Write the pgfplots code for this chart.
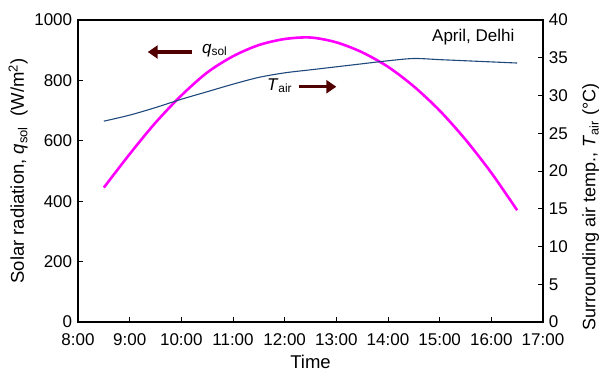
\documentclass[border=0pt]{standalone}
\usepackage{pgfplots}
\pgfplotsset{compat=1.18}
\usepackage{fontspec}
\setmainfont{Liberation Sans}
\usetikzlibrary{arrows.meta}
\definecolor{qcol}{RGB}{255,0,255}
\definecolor{tcol}{RGB}{31,73,125}
\definecolor{arr}{RGB}{80,0,0}
\begin{document}
\fontsize{17}{20}\selectfont
\begin{tikzpicture}
\pgfplotsset{common/.style={
  scale only axis, width=465pt, height=302pt, xmin=8, xmax=17,
  font=\fontsize{17}{20}\selectfont,
  label style={font=\fontsize{18.5}{22}\selectfont},
  /pgf/number format/assume math mode=true,
  /pgf/number format/1000 sep={},
  tick align=inside, major tick length=5pt,
  tick style={black, line width=0.6pt},
  axis line style={line width=1.5pt},
}}
\begin{axis}[common,
  ymin=0, ymax=1000, ytick={0,200,...,1000},
  xtick={8,...,17},
  xticklabels={8:00,9:00,10:00,11:00,12:00,13:00,14:00,15:00,16:00,17:00},
  xticklabel style={yshift=-6pt},
  xtick pos=bottom, ytick pos=left,
  xlabel={Time}, ylabel={Solar radiation, \textit{q}\textsubscript{sol}\ \ (W/m\textsuperscript{2})},
  xlabel style={yshift=2pt}, ylabel style={yshift=-5pt},
]
\addplot[qcol, line width=2.6pt, smooth] coordinates {
(8.5,445) (9.0,556) (9.5,660) (10.0,750) (10.5,826) (11.0,880) (11.5,917)
(12.0,937) (12.5,942) (13.0,926) (13.5,893) (14.0,845) (14.5,780)
(15.0,700) (15.5,604) (16.0,494) (16.5,370)
};
\draw[arr, line width=3.5pt, -{Triangle[width=13pt,length=10pt]}] (axis cs:10.2,894) -- (axis cs:9.35,894);
\node[anchor=west, inner sep=0pt] at (axis cs:10.4,900) {\textit{q}\textsubscript{sol}};
\node[anchor=east, inner sep=0pt] at (axis cs:12.15,782) {\textit{T}\textsubscript{air}};
\draw[arr, line width=3.5pt, -{Triangle[width=13pt,length=10pt]}] (axis cs:12.27,779) -- (axis cs:13.0,779);
\node[anchor=east, inner sep=0pt] at (axis cs:16.45,945) {April, Delhi};
\end{axis}
\begin{axis}[common,
  ymin=0, ymax=40, ytick={0,5,...,40},
  axis y line*=right, axis x line=none,
  ylabel={Surrounding air temp., \textit{T}\textsubscript{air} (°C)},
  ylabel style={at={(ticklabel cs:-0.03)}, anchor=north west, xshift=-5pt, yshift=-3pt,
    font=\fontsize{18}{21}\selectfont},
]
\addplot[tcol, line width=1.1pt, smooth] coordinates {
(8.5,26.6) (9.0,27.4) (9.5,28.4) (10.0,29.5) (10.5,30.5) (11.0,31.5) (11.5,32.4)
(12.0,33.0) (12.5,33.4) (13.0,33.8) (13.5,34.2) (14.0,34.6) (14.5,34.9)
(15.0,34.75) (15.5,34.6) (16.0,34.45) (16.5,34.3)
};
\end{axis}
\pgfresetboundingbox
\useasboundingbox (-78pt,-52pt) rectangle (522pt,322pt);
\end{tikzpicture}
\end{document}
